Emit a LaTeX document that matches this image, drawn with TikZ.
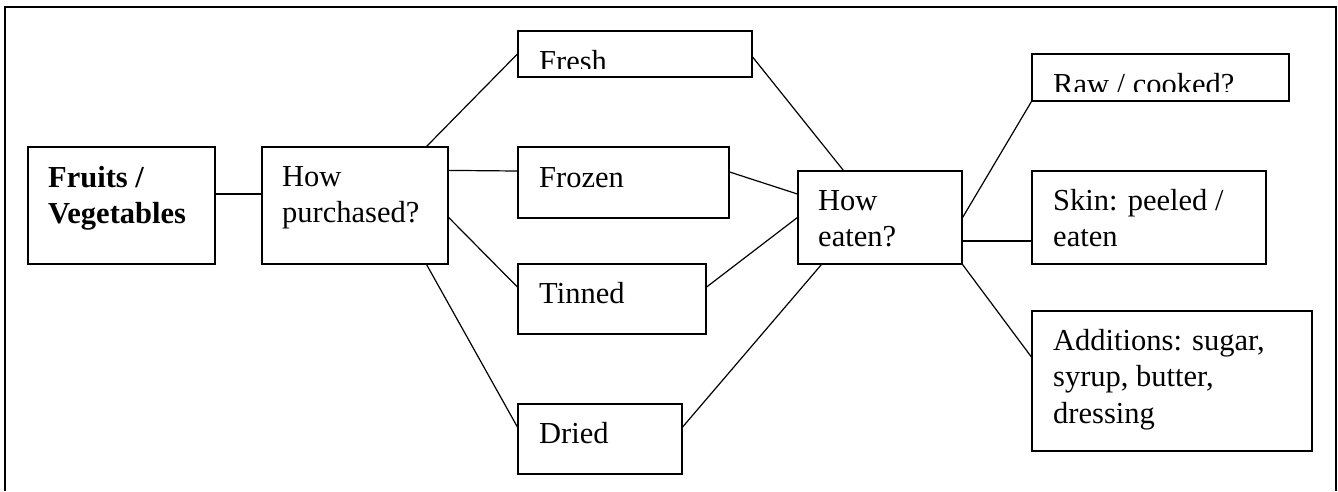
\documentclass[tikz,border=0pt]{standalone}
\usepackage{fontspec}
\setmainfont{Liberation Serif}
\usetikzlibrary{calc}
\newcommand\mltext[1]{\parbox[t]{300pt}{#1}}
\begin{document}
\begin{tikzpicture}[x=1pt,y=-1pt,
  box/.style 2 args={draw,line width=1.2pt,inner sep=0pt,minimum width=#1,minimum height=#2},
  txt/.style={anchor=base west,inner sep=0pt,font=\fontsize{30.5}{36.7}\selectfont},
  link/.style={line width=1.2pt},
  frame/.style={line width=1.2pt}]
\useasboundingbox (0,0) rectangle (1338,491);
% outer frame
\coordinate (f1) at (5,491);
\coordinate (f2) at (5,7);
\coordinate (f3) at (1336,7);
\coordinate (f4) at (1336,491);
\draw[frame] (f1) -- (f2) -- (f3) -- (f4);
% boxes
\node[box={187pt}{117pt}] (fv) at (121.5,205.5) {};
\node[box={186pt}{117pt}] (hp) at (355,205.5) {};
\node[box={234pt}{46pt}] (fresh) at (635,54) {};
\node[box={211pt}{71pt}] (frozen) at (623.5,182.5) {};
\node[box={188pt}{70pt}] (tinned) at (612,299) {};
\node[box={164pt}{70pt}] (dried) at (600,439) {};
\node[box={164pt}{93pt}] (he) at (880,217.5) {};
\node[box={257pt}{47pt}] (raw) at (1160.5,77.5) {};
\node[box={234pt}{93pt}] (skin) at (1149,217.5) {};
\node[box={280pt}{140pt}] (add) at (1172,381) {};
% texts
\node[txt] (tfv) at (48,187) {\mltext{\textbf{Fruits /}\\\textbf{Vegetables}}};
\node[txt] (thp) at (282,186) {\mltext{How\\purchased?}};
\begin{scope}
  \clip (519,32) rectangle (751,68);
  \node[txt] (tfresh) at (539,71) {Fresh};
\end{scope}
\node[txt] (tfrozen) at (539,187) {Frozen};
\node[txt] (ttinned) at (539,303) {Tinned};
\node[txt] (tdried) at (539,443) {Dried};
\node[txt] (the) at (818,210) {\mltext{How\\eaten?}};
\begin{scope}
  \clip (1033,55) rectangle (1288,91);
  \node[txt] (traw) at (1053,94) {Raw / cooked?};
\end{scope}
\node[txt] (tskin) at (1053,210) {\mltext{Skin: peeled /\\eaten}};
\node[txt] (tadd) at (1053,350) {\mltext{Additions: sugar,\\syrup, butter,\\dressing}};
% connectors
\draw[link] ($(fv.east)+(0,-11.5)$) -- ($(hp.west)+(0,-11.5)$);
\draw[link] ($(hp.north east)+(-22,0)$) -- (fresh.west);
\draw[link] ($(hp.north east)+(0,24)$) -- ($(frozen.west)+(0,-11.5)$);
\draw[link] ($(hp.north east)+(0,71)$) -- ($(tinned.west)+(0,-12)$);
\draw[link] ($(hp.south east)+(-22,0)$) -- ($(dried.west)+(0,-12)$);
\draw[link] ($(fresh.east)+(0,3)$) -- ($(he.north west)+(46,0)$);
\draw[link] ($(frozen.east)+(0,-10.5)$) -- ($(he.west)+(0,-23.5)$);
\draw[link] ($(tinned.east)+(0,-12)$) -- (he.west);
\draw[link] ($(dried.east)+(0,-12)$) -- ($(he.south west)+(24,0)$);
\draw[link] (he.east) -- (raw.south west);
\draw[link] ($(he.east)+(0,23.5)$) -- ($(skin.west)+(0,23.5)$);
\draw[link] (he.south east) -- ($(add.west)+(0,-24)$);
\end{tikzpicture}
\end{document}
